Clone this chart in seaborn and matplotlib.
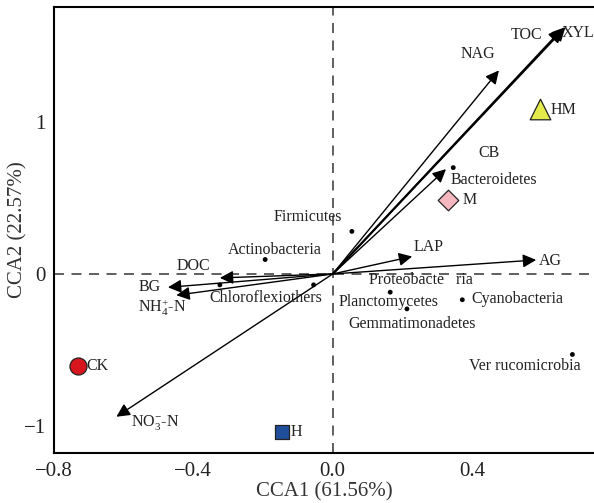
import matplotlib
matplotlib.use("Agg")
import matplotlib.pyplot as plt
import seaborn as sns
import pandas as pd

# ---- data ----
sample_names = ["CK", "H", "M", "HM"]
sample_x = [-0.731, -0.147, 0.330, 0.595]
sample_y = [-0.605, -1.040, 0.490, 1.085]

env_names = ["TOC", "XYL", "NAG", "CB", "LAP", "AG", "DOC", "BG",
             "NH$_4^{+}$-N", "NO$_3^{-}$-N"]
env_x = [0.660, 0.668, 0.477, 0.325, 0.228, 0.584, -0.324, -0.473, -0.449, -0.621]
env_y = [1.615, 1.625, 1.340, 0.690, 0.115, 0.092, -0.026, -0.088, -0.140, -0.940]

species_names = ["Bacteroidetes", "Firmicutes", "Actinobacteria", "Chloroflexi",
                 "others", "Planctomycetes", "Gemmatimonadetes", "Cyanobacteria",
                 "Verrucomicrobia"]
species_x = [0.346, 0.055, -0.194, -0.324, -0.055, 0.165, 0.213, 0.372, 0.688]
species_y = [0.700, 0.280, 0.095, -0.072, -0.072, -0.120, -0.230, -0.170, -0.530]

# text labels (label, x, y) placed as in the original figure
label_text = ["TOC", "XYL", "NAG", "HM", "CB", "Bacteroidetes", "M", "Firmicutes",
              "Actinobacteria", "DOC", "LAP", "AG", "BG", "Chloroflexiothers",
              "NH$_4^{+}$-N", "Proteobacte   ria", "Planctomycetes", "Cyanobacteria",
              "Gemmatimonadetes", "Ver rucomicrobia", "CK", "NO$_3^{-}$-N", "H"]
label_x = [0.511, 0.656, 0.367, 0.624, 0.419, 0.338, 0.372, -0.171,
           -0.300, -0.448, 0.231, 0.592, -0.558, -0.355,
           -0.558, 0.104, 0.017, 0.399,
           0.046, 0.390, -0.708, -0.578, -0.121]
label_y = [1.572, 1.585, 1.447, 1.079, 0.796, 0.618, 0.487, 0.375,
           0.158, 0.053, 0.178, 0.085, -0.086, -0.158,
           -0.225, -0.040, -0.184, -0.164,
           -0.329, -0.605, -0.605, -0.980, -1.040]

# ---- style ----
sns.set_style("white")
plt.rcParams["font.family"] = ["Liberation Serif", "DejaVu Serif"]
plt.rcParams["mathtext.fontset"] = "custom"
plt.rcParams["mathtext.rm"] = "Liberation Serif"
plt.rcParams["mathtext.it"] = "Liberation Serif:italic"

fig = plt.figure(figsize=(5.94, 5.03), dpi=100)
ax = fig.add_axes([0.091, 0.099, 0.909, 0.887])

ax.set_xlim(-0.80, 0.75)
ax.set_ylim(-1.18, 1.757)

dash = (0, (6, 4.5))
ax.axhline(0, color="#444444", lw=1.2, ls=dash, zorder=1)
ax.axvline(0, color="#444444", lw=1.2, ls=dash, zorder=1)

# arrows
for i, (n, x, y) in enumerate(zip(env_names, env_x, env_y)):
    lw = 1.4 if n in ("TOC", "XYL") else 1.0
    ax.annotate("", xy=(x, y), xytext=(0, 0),
                arrowprops=dict(arrowstyle="-|>", color="black", lw=lw,
                                mutation_scale=20, shrinkA=0, shrinkB=0),
                zorder=2)

# species points
sp = pd.DataFrame({"x": species_x, "y": species_y, "name": species_names})
sns.scatterplot(data=sp, x="x", y="y", color="black", s=12, edgecolor="none",
                ax=ax, zorder=3, legend=False)

# samples
sm = pd.DataFrame({"x": sample_x, "y": sample_y, "sample": sample_names})
palette = {"CK": "#d7151c", "H": "#1f4f9a", "M": "#f5b8c0", "HM": "#e4e94c"}
markers = {"CK": "o", "H": "s", "M": "D", "HM": "^"}
sizes = {"CK": 150, "H": 100, "M": 110, "HM": 220}
for s in sample_names:
    sub = sm[sm["sample"] == s]
    sns.scatterplot(data=sub, x="x", y="y", color=palette[s], marker=markers[s],
                    s=sizes[s], edgecolor="#222222", linewidth=0.9, ax=ax,
                    zorder=4, legend=False)

for t, x, y in zip(label_text, label_x, label_y):
    ax.text(x, y, t, fontsize=11.5, ha="left", va="center", color="#222222",
            zorder=5)

# axes
ax.set_xticks([-0.8, -0.4, 0.0, 0.4])
ax.set_xticklabels(["\u22120.8", "\u22120.4", "0.0", "0.4"])
ax.set_yticks([-1, 0, 1])
ax.set_yticklabels(["\u22121", "0", "1"])
ax.tick_params(axis="both", direction="in", length=5, width=1.2,
               labelsize=15, colors="#222222", pad=6)
ax.set_xlabel("CCA1 (61.56%)", fontsize=15, color="#333333", labelpad=1)
ax.set_ylabel("CCA2 (22.57%)", fontsize=15, color="#333333", labelpad=-3)

for side in ["left", "bottom", "top"]:
    ax.spines[side].set_visible(True)
    ax.spines[side].set_color("black")
    ax.spines[side].set_linewidth(1.5)
ax.spines["right"].set_visible(False)

fig.savefig("out.png", dpi=100)
